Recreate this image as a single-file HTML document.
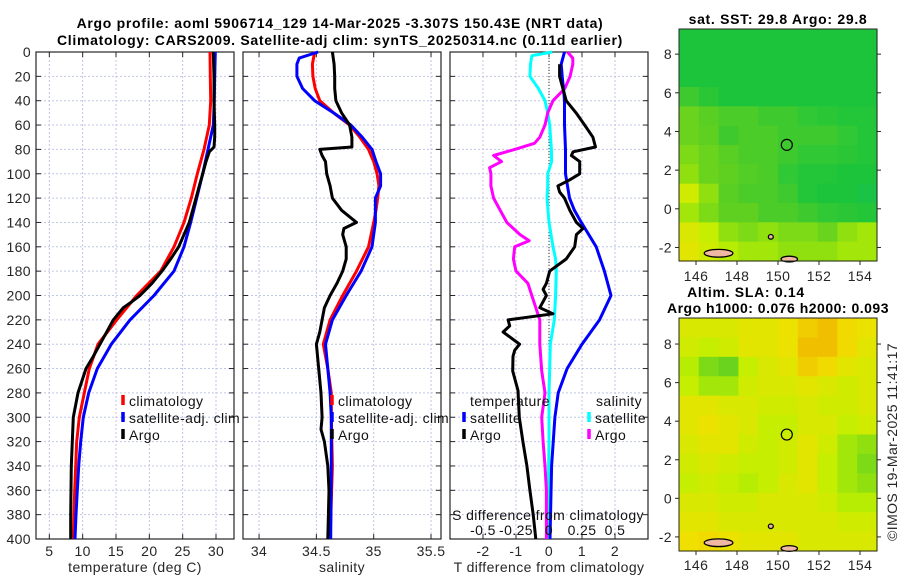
<!DOCTYPE html>
<html><head><meta charset="utf-8"><style>
html,body{margin:0;padding:0;background:#fff;}
svg{display:block;font-family:"Liberation Sans","DejaVu Sans",sans-serif;}
</style></head><body>
<svg id="fig" width="900" height="580" viewBox="0 0 900 580" xmlns="http://www.w3.org/2000/svg"></svg>
<script>
// ---------- data ----------
const tClimDepth=[0,20,40,60,80,100,120,140,160,180,200,220,240,260,280,300,320,340,360,380,400];
const tClim=[29.1,29.15,29.2,29.0,28.2,27.2,26.3,25.2,23.7,21.7,18.1,15.1,12.3,11.0,10.25,9.5,9.1,8.95,8.8,8.7,8.6];
const tSat=[29.9,29.8,29.75,29.6,28.8,28.0,27.1,26.2,25.2,23.7,20.7,17.1,14.3,12.2,10.9,10.1,9.7,9.4,9.2,9.0,8.85];
const tArgoDepth=[0,20,40,60,70,78,82,90,100,110,120,140,160,170,180,190,200,205,210,220,230,240,250,260,280,300,320,340,360,380,400];
const tArgo=[29.6,29.7,29.7,29.8,29.8,29.7,29.0,28.5,28.0,27.5,27.0,26.0,24.4,23.2,21.9,20.4,18.6,17.4,16.1,14.6,13.6,12.6,11.6,10.5,9.3,8.6,8.45,8.3,8.25,8.2,8.2];

const sClimDepth=[0,10,20,30,40,50,60,70,80,90,100,110,120,130,140,160,180,200,220,240,260,280,300,340,400];
const sClim=[34.485,34.465,34.47,34.49,34.53,34.65,34.79,34.88,34.955,35.0,35.03,35.045,35.035,35.02,35.0,34.955,34.85,34.73,34.62,34.56,34.6,34.63,34.63,34.64,34.62];
const sSatDepth=[0,5,10,20,30,40,50,60,70,80,90,100,110,120,140,160,180,200,220,240,260,280,300,340,400];
const sSat=[34.515,34.35,34.33,34.33,34.38,34.485,34.65,34.8,34.9,34.985,35.02,35.06,35.06,35.015,35.015,34.985,34.89,34.76,34.64,34.58,34.6,34.62,34.63,34.63,34.625];
const sArgoDepth=[0,10,20,30,40,50,60,70,78,80,85,90,100,110,120,130,140,145,150,160,170,180,190,200,210,220,230,240,260,280,300,310,320,340,360,400];
const sArgo=[34.64,34.655,34.66,34.66,34.67,34.72,34.79,34.81,34.81,34.53,34.55,34.58,34.59,34.62,34.64,34.72,34.85,34.74,34.73,34.76,34.76,34.73,34.68,34.62,34.57,34.55,34.53,34.5,34.52,34.54,34.55,34.54,34.57,34.6,34.61,34.6];

const dSatTDepth=[0,10,20,30,40,60,80,100,120,130,140,160,180,200,220,240,260,280,300,340,400];
const dSatT=[0.47,0.37,0.4,0.44,0.47,0.47,0.5,0.5,0.62,0.77,0.98,1.43,1.68,1.88,1.53,1.0,0.55,0.28,0.18,0.08,0.03];
const dArgoTDepth=[10,20,30,40,50,60,70,78,82,85,90,100,105,110,115,120,130,140,145,150,160,170,180,190,195,200,210,215,220,225,230,240,245,250,262,278,300,320,340,360,380,400];
const dArgoT=[0.32,0.32,0.42,0.52,0.82,1.08,1.33,1.41,0.73,0.68,0.93,0.93,0.63,0.27,0.32,0.47,0.63,0.83,1.03,0.83,0.78,0.52,0.02,-0.08,-0.18,-0.08,-0.28,0.12,-1.24,-1.19,-1.39,-0.89,-1.04,-1.09,-1.1,-0.94,-0.9,-0.79,-0.67,-0.58,-0.48,-0.4];
const dSatSDepth=[0,3,10,20,30,40,50,60,80,90,100,110,120,140,160,170,180,200,220,240,260,280,320,360,400];
const dSatS=[0.025,-0.13,-0.14,-0.145,-0.08,-0.03,-0.01,0.005,0.018,0.02,-0.01,-0.01,-0.015,0.0,0.03,0.05,0.055,0.05,0.04,0.01,0.005,0,0,-0.005,-0.01];
const dArgoSDepth=[0,5,10,20,30,40,50,60,70,75,80,85,90,95,100,110,120,130,140,150,155,160,170,180,190,200,210,220,240,262,280,300,320,340,360,400];
const dArgoS=[0.14,0.18,0.18,0.16,0.12,0.03,-0.01,-0.03,-0.07,-0.11,-0.26,-0.42,-0.36,-0.45,-0.44,-0.44,-0.42,-0.37,-0.32,-0.22,-0.15,-0.26,-0.27,-0.25,-0.16,-0.13,-0.1,-0.07,-0.07,-0.055,-0.03,-0.055,-0.045,-0.03,-0.02,-0.02];

const depthTicks=[0,20,40,60,80,100,120,140,160,180,200,220,240,260,280,300,320,340,360,380,400];
const tempTicks=[5,10,15,20,25,30];
const salTicks=[34,34.5,35,35.5];
const salTickLabels=["34","34.5","35","35.5"];
const dTTicks=[-2,-1,0,1,2];
const dSTicks=[-0.5,-0.25,0,0.25,0.5];
const dSTickLabels=["-0.5","-0.25","0","0.25","0.5"];

const lonTicks=[146,148,150,152,154];
const latTicks=[8,6,4,2,0,-2];
const sstGrid=[
[0.45,0.45,0.45,0.45,0.45,0.45,0.45,0.45,0.45,0.45],
[0.45,0.45,0.45,0.45,0.45,0.45,0.45,0.45,0.45,0.45],
[0.45,0.45,0.45,0.45,0.45,0.45,0.45,0.45,0.45,0.45],
[0.5,0.47,0.45,0.45,0.45,0.45,0.45,0.45,0.45,0.45],
[0.56,0.54,0.52,0.52,0.5,0.5,0.48,0.47,0.46,0.46],
[0.56,0.55,0.5,0.52,0.52,0.5,0.5,0.5,0.48,0.46],
[0.58,0.56,0.54,0.52,0.52,0.5,0.48,0.48,0.47,0.46],
[0.6,0.56,0.55,0.53,0.52,0.48,0.46,0.46,0.45,0.45],
[0.68,0.6,0.54,0.52,0.52,0.5,0.46,0.45,0.45,0.44],
[0.62,0.58,0.55,0.55,0.52,0.52,0.5,0.48,0.47,0.46],
[0.7,0.66,0.6,0.58,0.6,0.58,0.58,0.56,0.6,0.62],
[0.72,0.68,0.64,0.62,0.62,0.6,0.6,0.6,0.62,0.62]];
const slaGrid=[
[0.7,0.7,0.7,0.72,0.72,0.74,0.78,0.8,0.76,0.74],
[0.68,0.66,0.68,0.72,0.72,0.74,0.8,0.8,0.76,0.72],
[0.64,0.58,0.56,0.66,0.7,0.72,0.78,0.76,0.72,0.7],
[0.66,0.62,0.62,0.68,0.7,0.7,0.72,0.7,0.68,0.7],
[0.72,0.72,0.7,0.7,0.68,0.68,0.7,0.68,0.68,0.7],
[0.72,0.74,0.72,0.7,0.66,0.66,0.7,0.7,0.66,0.68],
[0.7,0.72,0.72,0.68,0.66,0.68,0.72,0.68,0.62,0.6],
[0.68,0.7,0.68,0.66,0.66,0.68,0.72,0.66,0.62,0.58],
[0.66,0.68,0.66,0.64,0.66,0.7,0.72,0.66,0.62,0.6],
[0.7,0.7,0.68,0.68,0.7,0.7,0.7,0.68,0.64,0.64],
[0.72,0.72,0.7,0.7,0.7,0.7,0.7,0.7,0.68,0.68],
[0.75,0.76,0.74,0.72,0.72,0.72,0.7,0.7,0.7,0.7]];
const argoLon=150.43, argoLat=3.307;

// ---------- helpers ----------
const NS="http://www.w3.org/2000/svg";
const svg=document.getElementById('fig');
function mk(tag,attrs,parent){const e=document.createElementNS(NS,tag);for(const k in attrs)e.setAttribute(k,attrs[k]);(parent||svg).appendChild(e);return e;}
function txt(x,y,s,opts,parent){const o=Object.assign({x:x,y:y,'font-size':14,'letter-spacing':0.4,fill:'#262626'},opts||{});const e=mk('text',o,parent);e.textContent=s;return e;}

const PT=52, PB=539, DMAX=400;
const yD=d=>PT+(PB-PT)*d/DMAX;
function lin(a0,a1,p0,p1){return v=>p0+(v-a0)*(p1-p0)/(a1-a0);}

function panel(name,x0,x1,xmin,xmax,ticks,labels,showDepthLabels){
  const g=mk('g',{});
  
  
  const xs=lin(xmin,xmax,x0,x1);
  ticks.forEach(t=>{const l=mk('line',{x1:xs(t),x2:xs(t),y1:PT,y2:PB,stroke:'#c8c0e0','stroke-width':1,'stroke-dasharray':'2,2'},g);
    
    });
  depthTicks.forEach(d=>{const l=mk('line',{x1:x0,x2:x1,y1:yD(d),y2:yD(d),stroke:'#c0c8e8','stroke-width':1,'stroke-dasharray':'2,2'},g);
    
    });
  depthTicks.forEach(d=>{mk('line',{x1:x0,x2:x0+5,y1:yD(d),y2:yD(d),stroke:'#262626'},g);mk('line',{x1:x1-5,x2:x1,y1:yD(d),y2:yD(d),stroke:'#262626'},g);
    if(showDepthLabels){const t=txt(31,yD(d)+5,String(d),{'text-anchor':'end'},g);
      
      }});
  ticks.forEach((t,i)=>{mk('line',{x1:xs(t),x2:xs(t),y1:PB,y2:PB-5,stroke:'#262626'},g);mk('line',{x1:xs(t),x2:xs(t),y1:PT,y2:PT+5,stroke:'#262626'},g);
    const l=txt(xs(t),556,labels[i],{'text-anchor':'middle'},g);
    
    });
  const fr=mk('rect',{x:x0,y:PT,width:x1-x0,height:PB-PT,fill:'none',stroke:'#262626','stroke-width':1.2},g);
  
  
  return {g,xs};
}
function series(p,xs,depths,vals,color,name){
  const pts=vals.map((v,i)=>xs(v).toFixed(1)+','+yD(depths[i]).toFixed(1)).join(' ');
  const l=mk('polyline',{points:pts,fill:'none',stroke:color,'stroke-width':3,'stroke-linejoin':'round'},p);
  
  
}
function legendEntry(p,x,y,color,label){
  const g=mk('g',{},p);
  
  
  mk('line',{x1:x,x2:x,y1:y-11,y2:y-1,stroke:color,'stroke-width':3.5},g);
  txt(x+6,y,label,{fill:'#111'},g);
}

// ---------- titles ----------
const t1=txt(340,28,'Argo profile: aoml 5906714_129 14-Mar-2025 -3.307S 150.43E (NRT data)',{'text-anchor':'middle','font-weight':'bold',fill:'#000','letter-spacing':0.7});


const t2=txt(340,45,'Climatology: CARS2009. Satellite-adj clim: synTS_20250314.nc (0.11d earlier)',{'text-anchor':'middle','font-weight':'bold',fill:'#000','letter-spacing':0.7});



// ---------- panel 1 ----------
const P1=panel('temperature-panel',36,234,3,32.7,tempTicks,tempTicks.map(String),true);
series(P1.g,P1.xs,tClimDepth,tClim,'#ff0000','climatology-temp-line');
series(P1.g,P1.xs,tClimDepth,tSat,'#0000ff','satellite-temp-line');
series(P1.g,P1.xs,tArgoDepth,tArgo,'#000000','argo-temp-line');
legendEntry(P1.g,123,406,'#ff0000','climatology');
legendEntry(P1.g,123,423,'#0000ff','satellite-adj. clim');
legendEntry(P1.g,123,440,'#000000','Argo');
const xl1=txt(135,572,'temperature (deg C)',{'text-anchor':'middle'});



// ---------- panel 2 ----------
const P2=panel('salinity-panel',243,441,33.86,35.587,salTicks,salTickLabels,false);
series(P2.g,P2.xs,sClimDepth,sClim,'#ff0000','climatology-salinity-line');
series(P2.g,P2.xs,sSatDepth,sSat,'#0000ff','satellite-salinity-line');
series(P2.g,P2.xs,sArgoDepth,sArgo,'#000000','argo-salinity-line');
legendEntry(P2.g,332,406,'#ff0000','climatology');
legendEntry(P2.g,332,423,'#0000ff','satellite-adj. clim');
legendEntry(P2.g,332,440,'#000000','Argo');
const xl2=txt(342,572,'salinity',{'text-anchor':'middle'});



// ---------- panel 3 ----------
const P3=panel('difference-panel',450,648,-3,3,dTTicks,dTTicks.map(String),false);
const xsS=lin(-0.75,0.75,450,648);
const zl=mk('line',{x1:P3.xs(0),x2:P3.xs(0),y1:PT,y2:PB,stroke:'#333','stroke-width':1,'stroke-dasharray':'1,2'},P3.g);


series(P3.g,xsS,dSatSDepth,dSatS,'#00ffff','satellite-salinity-diff-line');
series(P3.g,xsS,dArgoSDepth,dArgoS,'#ff00ff','argo-salinity-diff-line');
series(P3.g,P3.xs,dSatTDepth,dSatT,'#0000ff','satellite-temp-diff-line');
series(P3.g,P3.xs,dArgoTDepth,dArgoT,'#000000','argo-temp-diff-line');
const lt=txt(470,406,'temperature',{fill:'#111'},P3.g);


legendEntry(P3.g,464,423,'#0000ff','satellite');
legendEntry(P3.g,464,440,'#000000','Argo');
const ls=txt(642,406,'salinity',{fill:'#111','text-anchor':'end'},P3.g);


legendEntry(P3.g,589,423,'#00ffff','satellite');
legendEntry(P3.g,589,440,'#ff00ff','Argo');
const st=txt(548,520,'S difference from climatology',{'text-anchor':'middle',fill:'#111'},P3.g);


dSTicks.forEach((v,i)=>{const l=txt(xsS(v),535,dSTickLabels[i],{'text-anchor':'middle',fill:'#111'},P3.g);
  
  });
const xl3=txt(549,572,'T difference from climatology',{'text-anchor':'middle'});



// ---------- maps ----------
const stops=[[0.3,[0,176,192]],[0.45,[28,196,60]],[0.55,[96,208,32]],[0.65,[192,240,0]],[0.75,[240,224,0]],[0.85,[240,160,0]],[1.0,[192,48,0]]];
function cmap(v){if(v<=stops[0][0])return 'rgb('+stops[0][1]+')';
  for(let i=1;i<stops.length;i++){if(v<=stops[i][0]){const a=stops[i-1],b=stops[i],f=(v-a[0])/(b[0]-a[0]);
    return 'rgb('+a[1].map((c,j)=>Math.round(c+(b[1][j]-c)*f)).join(',')+')';}}
  return 'rgb('+stops[stops.length-1][1]+')';}
function map(name,grid,top,bottom,latTop,latBot,labelY){
  const g=mk('g',{});
  
  
  const L=679,R=877,lonMin=145.17,lonMax=154.83;
  const xs=lin(lonMin,lonMax,L,R), ys=lin(latTop,latBot,top,bottom);
  const rows=grid.length, cols=grid[0].length, cw=(R-L)/cols, ch=(bottom-top)/rows;
  grid.forEach((row,r)=>row.forEach((v,c)=>{
    const cell=mk('rect',{x:(L+c*cw).toFixed(2),y:(top+r*ch).toFixed(2),width:(cw+0.6).toFixed(2),height:(ch+0.6).toFixed(2),fill:cmap(v)},g);
    
    }));
  [[147.1,-2.3,0.7,0.2],[150.55,-2.6,0.4,0.15],[149.65,-1.45,0.12,0.12]].forEach(s=>{
    const e=mk('ellipse',{cx:xs(s[0]),cy:ys(s[1]),rx:s[2]*20.5,ry:s[3]*19.3,fill:'#f0b8a0',stroke:'#000','stroke-width':1.3},g);
    
    });
  const c=mk('circle',{cx:xs(argoLon),cy:ys(argoLat),r:5.5,fill:'none',stroke:'#000','stroke-width':1.2},g);
  
  
  const fr=mk('rect',{x:L,y:top,width:R-L,height:bottom-top,fill:'none',stroke:'#262626','stroke-width':1},g);
  
  
  lonTicks.forEach(t=>{mk('line',{x1:xs(t),x2:xs(t),y1:bottom,y2:bottom+4,stroke:'#262626'},g);
    const l=txt(xs(t),labelY,String(t),{'text-anchor':'middle'},g);
    
    });
  latTicks.forEach(t=>{mk('line',{x1:L-4,x2:L,y1:ys(t),y2:ys(t),stroke:'#262626'},g);mk('line',{x1:R,x2:R+4,y1:ys(t),y2:ys(t),stroke:'#262626'},g);
    const l=txt(672,ys(t)+5,String(t),{'text-anchor':'end'},g);
    
    });
}
map('sst-map',sstGrid,29,261,9.3,-2.7,281);
map('sla-map',slaGrid,318,551,9.35,-2.73,570);
const m1=txt(778,24,'sat. SST: 29.8 Argo: 29.8',{'text-anchor':'middle','font-weight':'bold',fill:'#000','letter-spacing':0.7});


const m2=txt(746,297,'Altim. SLA: 0.14',{'text-anchor':'middle','font-weight':'bold',fill:'#000','letter-spacing':0.7});


const m3=txt(778,313,'Argo h1000: 0.076 h2000: 0.093',{'text-anchor':'middle','font-weight':'bold',fill:'#000','letter-spacing':0.5});


const cp=txt(0,0,'©IMOS 19-Mar-2025 11:41:17',{'text-anchor':'middle',transform:'translate(897,442) rotate(-90)'});


</script>
</body></html>
